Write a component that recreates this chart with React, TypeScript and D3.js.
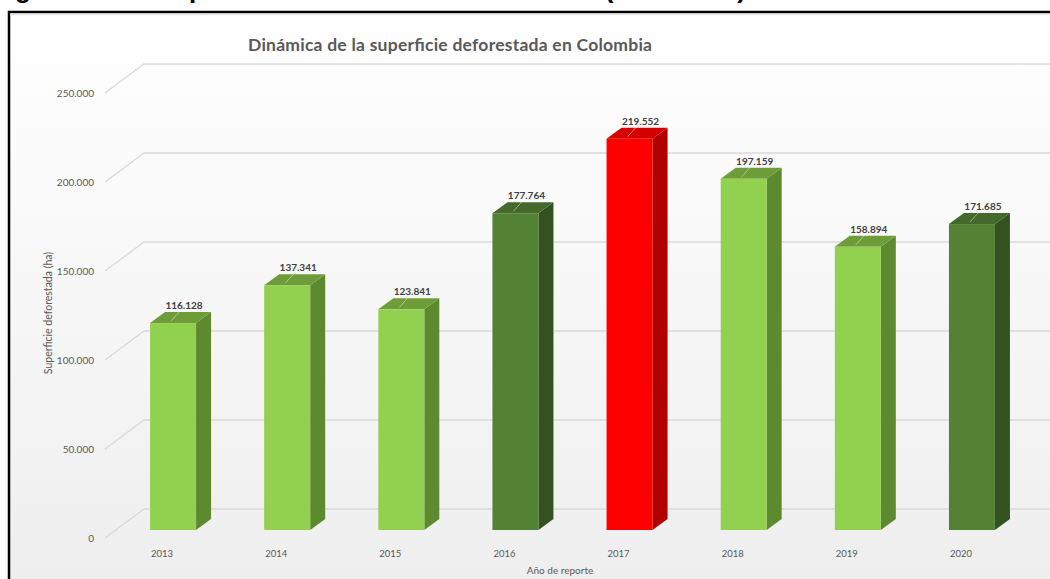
import React from "react";
import * as d3 from "d3";

const years: string[] = ["2013", "2014", "2015", "2016", "2017", "2018", "2019", "2020"];
const values: number[] = [116128, 137341, 123841, 177764, 219552, 197159, 158894, 171685];
const colorKeys: string[] = ["light", "light", "light", "dark", "red", "light", "light", "dark"];
const yTicks: number[] = [0, 50000, 100000, 150000, 200000, 250000];

const chartTitle = "Dinámica de la superficie deforestada en Colombia";
const yTitle = "Superficie deforestada (ha)";
const xTitle = "Año de reporte";
const caption = "Figura 10. La superficie deforestada en Colombia (2013-2020)";

const palette: Record<string, { front: string; side: string; top: string }> = {
  light: { front: "#92d050", side: "#5d8a2e", top: "#6e9c38" },
  dark: { front: "#548235", side: "#34521f", top: "#44692a" },
  red: { front: "#ff0000", side: "#b00000", top: "#d40000" },
};

const fmt = d3.formatLocale({ decimal: ",", thousands: ".", grouping: [3], currency: ["", ""] }).format(",");

const W = 1050;
const H = 579;
const FONT = "Lato, 'Open Sans', sans-serif";

export default function App() {
  const x = d3
    .scaleBand<string>()
    .domain(years)
    .range([116, 1029])
    .paddingInner(0.597)
    .paddingOuter(0.2985);
  const yFront = d3.scaleLinear().domain([0, 250000]).range([530, 84.5]);
  const yAxis = d3.scaleLinear().domain([0, 250000]).range([538, 93]);
  const yBack = d3.scaleLinear().domain([0, 250000]).range([509, 64]);
  const wallX0 = 105;
  const wallX1 = 144;
  const dx = 15;
  const dy = -11;
  const bw = x.bandwidth();
  const base = yFront(0);

  return (
    <div style={{ position: "fixed", left: 0, top: 0, width: W, height: H, background: "#fff" }}>
      <svg width={W} height={H} style={{ display: "block" }}>
        <defs>
          <linearGradient id="bg" x1="0" y1="0" x2="0" y2="1">
            <stop offset="0" stopColor="#ffffff" />
            <stop offset="0.25" stopColor="#fbfbfb" />
            <stop offset="1" stopColor="#eeeeee" />
          </linearGradient>
        </defs>
        <text x={-8} y={-2} fontFamily="'Liberation Sans', Arial, sans-serif" fontWeight="bold" fontSize={26} fill="#000" textLength={754}>
          {caption}
        </text>
        <rect x={9} y={12} width={W + 20} height={H} fill="url(#bg)" stroke="#000" strokeWidth={2.5} />
        <line x1={10} x2={W} y1={14.5} y2={14.5} stroke="#e6e6e6" strokeWidth={1.5} />
        <text x={450} y={51} textAnchor="middle" fontFamily={FONT} fontWeight="bold" fontSize={17.5} fill="#595959" textLength={404}>
          {chartTitle}
        </text>
        {yTicks.map((t) => (
          <g key={t}>
            <path
              d={`M${wallX0},${yAxis(t)}L${wallX1},${yBack(t)}L${W},${yBack(t)}`}
              fill="none"
              stroke="#d9d9d9"
              strokeWidth={1.3}
            />
            <text x={94} y={yAxis(t) + 3.5} textAnchor="end" fontFamily={FONT} fontSize={10} fill="#595959">
              {fmt(t)}
            </text>
          </g>
        ))}
        {years.map((yr, i) => {
          const v = values[i];
          const c = palette[colorKeys[i]];
          const x0 = x(yr) as number;
          const yt = yFront(v);
          const side = `M${x0 + bw},${yt}L${x0 + bw + dx},${yt + dy}L${x0 + bw + dx},${base + dy}L${x0 + bw},${base}Z`;
          const top = `M${x0},${yt}L${x0 + dx},${yt + dy}L${x0 + bw + dx},${yt + dy}L${x0 + bw},${yt}Z`;
          const lx = x0 + 34;
          return (
            <g key={yr}>
              <path d={side} fill={c.side} />
              <path d={top} fill={c.top} />
              <rect x={x0} y={yt} width={bw} height={base - yt} fill={c.front} />
              <line
                x1={x0 + bw / 2 - 2}
                y1={yt - 2}
                x2={lx - 4}
                y2={yt + dy - 1}
                stroke="rgba(255,255,255,0.45)"
                strokeWidth={1}
              />
              <text x={lx} y={yt + dy - 3} textAnchor="middle" fontFamily={FONT} fontWeight="bold" fontSize={10} fill="#404040">
                {fmt(v)}
              </text>
              <text x={x0 + bw / 2 - 11} y={557} textAnchor="middle" fontFamily={FONT} fontSize={9.5} fill="#595959">
                {yr}
              </text>
            </g>
          );
        })}
        <text x={560} y={574} textAnchor="middle" fontFamily={FONT} fontSize={10} fill="#595959">
          {xTitle}
        </text>
        <text
          transform={`translate(52,313) rotate(-90)`}
          textAnchor="middle"
          fontFamily={FONT}
          fontSize={10.5}
          fill="#595959"
        >
          {yTitle}
        </text>
      </svg>
    </div>
  );
}
